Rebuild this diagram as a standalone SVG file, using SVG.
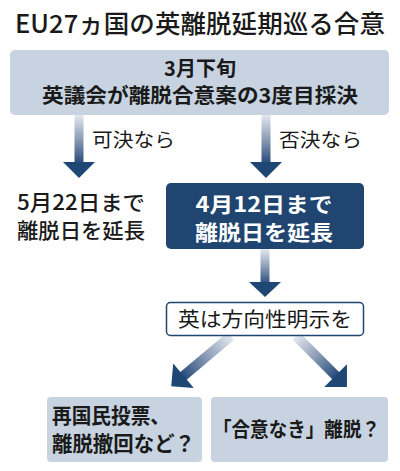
<svg xmlns="http://www.w3.org/2000/svg" width="400" height="471" viewBox="0 0 400 471">
<defs>
<linearGradient id="shaft" x1="0" y1="0" x2="0" y2="1">
<stop offset="0" stop-color="#e4e8ef"/>
<stop offset="0.5" stop-color="#8a9bb5"/>
<stop offset="1" stop-color="#24497a"/>
</linearGradient>
<style>
text{font-family:"Noto Sans CJK JP","Noto Sans",sans-serif;fill:#1a1a1a}
.light{fill:#c7d3e1}
.b{font-weight:700}
.m{font-weight:500}
.w{fill:#ffffff}
.head{fill:#1f4773}
</style>
</defs>
<rect width="400" height="471" fill="#ffffff"/>
<text x="15" y="33" font-size="25" class="m" textLength="370" lengthAdjust="spacingAndGlyphs">EU27ヵ国の英離脱延期巡る合意</text>

<g id="top">
<rect class="light" x="10" y="50" width="379" height="65" rx="5"/>
<text x="200" y="76" font-size="20" class="b" text-anchor="middle">3月下旬</text>
<text x="200" y="103" font-size="20" class="b" text-anchor="middle" textLength="316" lengthAdjust="spacingAndGlyphs">英議会が離脱合意案の3度目採決</text>
</g>

<g id="connectors">
<g transform="translate(79,115)">
<rect x="-4.5" y="0" width="9" height="49" fill="url(#shaft)"/>
<polygon class="head" points="-16,47 16,47 0,63"/>
</g>
<g transform="translate(266,115)">
<rect x="-4.5" y="0" width="9" height="49" fill="url(#shaft)"/>
<polygon class="head" points="-16,47 16,47 0,63"/>
</g>
<g transform="translate(265,249)">
<rect x="-4.5" y="0" width="9" height="36" fill="url(#shaft)"/>
<polygon class="head" points="-16,33 16,33 0,48"/>
</g>
<g transform="translate(231,336) rotate(50)">
<rect x="-5" y="0" width="10" height="64" fill="url(#shaft)"/>
<polygon class="head" points="-16,62 16,62 0,78"/>
</g>
<g transform="translate(296,336) rotate(-45)">
<rect x="-5" y="0" width="10" height="58" fill="url(#shaft)"/>
<polygon class="head" points="-16,56 16,56 0,72"/>
</g>
<text x="92" y="147" font-size="19" textLength="83" lengthAdjust="spacingAndGlyphs">可決なら</text>
<text x="279" y="147" font-size="19" textLength="83" lengthAdjust="spacingAndGlyphs">否決なら</text>
</g>

<g id="left-result">
<text x="17" y="210" font-size="21" class="m" textLength="128" lengthAdjust="spacingAndGlyphs">5月22日まで</text>
<text x="17" y="238" font-size="21" class="m" textLength="128" lengthAdjust="spacingAndGlyphs">離脱日を延長</text>
</g>

<g id="dark">
<rect x="166" y="183" width="198" height="66" rx="5" fill="#1f4570"/>
<text x="264" y="212" font-size="21" class="b w" text-anchor="middle" textLength="137" lengthAdjust="spacingAndGlyphs">4月12日まで</text>
<text x="264" y="240" font-size="21" class="b w" text-anchor="middle" textLength="138" lengthAdjust="spacingAndGlyphs">離脱日を延長</text>
</g>

<g id="direction">
<rect x="166.5" y="302.5" width="197" height="33" rx="4" fill="#ffffff" stroke="#1f4570" stroke-width="1.5"/>
<text x="265" y="327" font-size="20" text-anchor="middle" textLength="174" lengthAdjust="spacingAndGlyphs">英は方向性明示を</text>
</g>

<g id="referendum">
<rect class="light" x="47" y="397" width="155" height="65" rx="4"/>
<text x="52" y="423" font-size="21" class="b" textLength="118" lengthAdjust="spacingAndGlyphs">再国民投票、</text>
<text x="52" y="451" font-size="21" class="b" textLength="143" lengthAdjust="spacingAndGlyphs">離脱撤回など？</text>
</g>

<g id="nodeal">
<rect class="light" x="211" y="397" width="177" height="65" rx="4"/>
<text x="213" y="437" font-size="20" class="b" textLength="167" lengthAdjust="spacingAndGlyphs">「合意なき」離脱？</text>
</g>
</svg>
